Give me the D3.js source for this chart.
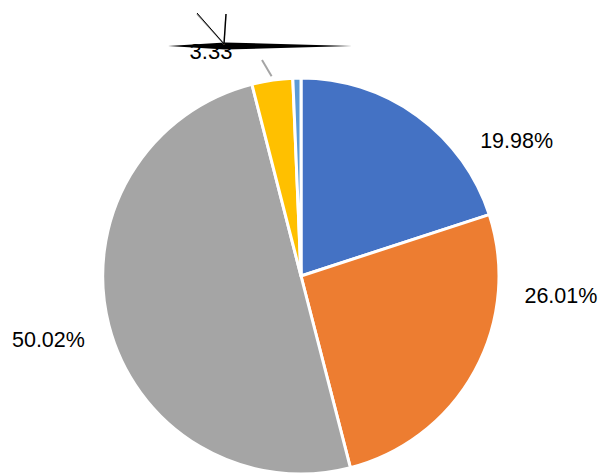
<!DOCTYPE html>
<html>
<head>
<meta charset="utf-8">
<script src="https://cdn.jsdelivr.net/npm/d3@7"></script>
<style>
body { margin: 0; background: #fff; }
text { font-family: "Liberation Sans", Arial, sans-serif; }
</style>
</head>
<body>
<script>
var width = 606;
var height = 473;

// chart data
var categories = ["A", "B", "C", "D", "E"];
var values = [19.98, 26.01, 50.02, 3.33, 0.66];
var labels = ["19.98%", "26.01%", "50.02%", "3.33", ""];
var colors = ["#4472C4", "#ED7D31", "#A5A5A5", "#FFC000", "#5B9BD5"];

var svg = d3.select('body').append('svg')
  .attr('width', width)
  .attr('height', height);

var cx = 301, cy = 276, r = 198;

var pie = d3.pie().sort(null).value(function(d) { return d; });
var arc = d3.arc().innerRadius(0).outerRadius(r);
var arcs = pie(values);

var g = svg.append('g').attr('transform', 'translate(' + cx + ',' + cy + ')');

g.selectAll('path.slice')
  .data(arcs)
  .enter()
  .append('path')
  .attr('class', 'slice')
  .attr('d', arc)
  .attr('fill', function(d, i) { return colors[i]; })
  .attr('stroke', '#fff')
  .attr('stroke-width', 3)
  .attr('stroke-linejoin', 'round');

// labels sit outside the pie, nudged like excel's best fit
var labelArc = d3.arc().innerRadius(r + 38).outerRadius(r + 38);
var nudge = [[77, 63], [53, -86], [-24, 12]];

g.selectAll('text.lbl')
  .data(arcs.slice(0, 3))
  .enter()
  .append('text')
  .attr('class', 'lbl')
  .attr('x', function(d, i) { return labelArc.centroid(d)[0] + nudge[i][0]; })
  .attr('y', function(d, i) { return labelArc.centroid(d)[1] + nudge[i][1]; })
  .attr('text-anchor', 'middle')
  .attr('font-size', 21.5)
  .attr('fill', '#000')
  .text(function(d, i) { return labels[i]; });

// the small yellow slice label got pulled up top with a leader line
var yellow = arcs[3];
var mid = (yellow.startAngle + yellow.endAngle) / 2;
var p0 = [Math.sin(mid) * (r + 4), -Math.cos(mid) * (r + 4)];
svg.append('line')
  .attr('x1', cx + p0[0]).attr('y1', cy + p0[1])
  .attr('x2', 262).attr('y2', 60)
  .attr('stroke', '#A5A5A5')
  .attr('stroke-width', 2);

// garbled glyph artefact around the label
svg.append('path')
  .attr('d', 'M168,46 L225,42.5 L352,46 L225,49.5 Z')
  .attr('fill', '#000');
svg.append('line')
  .attr('x1', 197).attr('y1', 14).attr('x2', 225).attr('y2', 45)
  .attr('stroke', '#999').attr('stroke-width', 1.5);
svg.append('line')
  .attr('x1', 197).attr('y1', 13).attr('x2', 224).attr('y2', 44)
  .attr('stroke', '#000').attr('stroke-width', 1);
svg.append('line')
  .attr('x1', 226).attr('y1', 14).attr('x2', 224).attr('y2', 44)
  .attr('stroke', '#000').attr('stroke-width', 1.5);

svg.append('text')
  .attr('x', 211).attr('y', 59)
  .attr('text-anchor', 'middle')
  .attr('font-size', 22)
  .attr('fill', '#000')
  .text(labels[3]);
</script>
</body>
</html>
